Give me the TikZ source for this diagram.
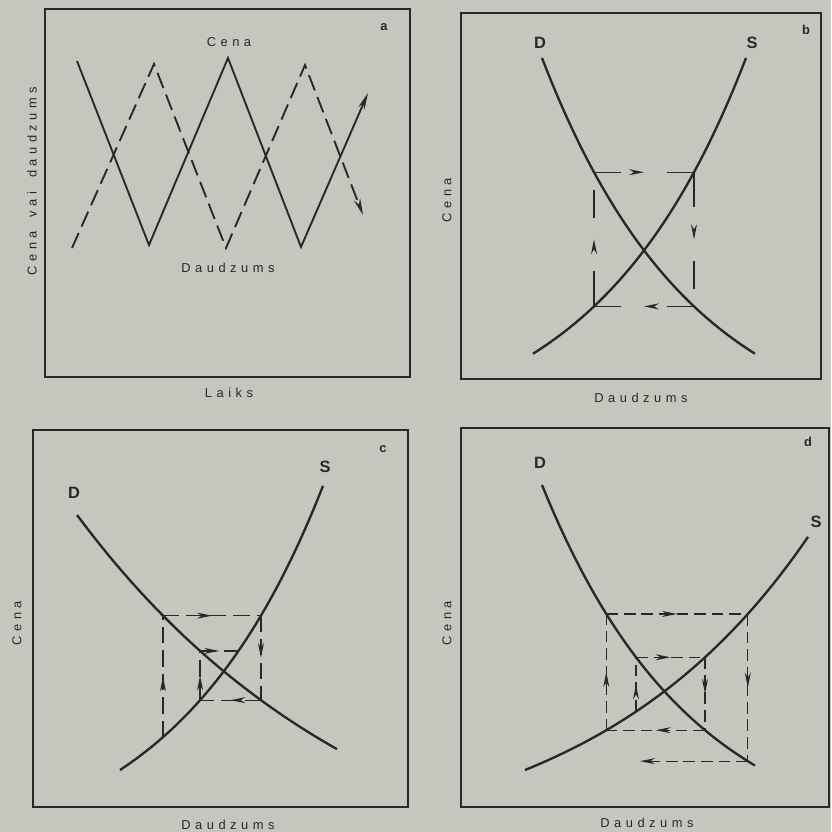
\documentclass[tikz,border=0pt]{standalone}
\usepackage{fontspec}
\usepackage{tikz}
\usetikzlibrary{arrows.meta,calc,decorations.markings}
\setmainfont{Liberation Sans}
\newfontfamily\spacedfont[LetterSpace=35,WordSpace=1.7]{Liberation Sans}
\definecolor{PageGray}{RGB}{197,199,190}
\definecolor{InkGray}{RGB}{40,40,38}
\tikzset{
	frame/.style={InkGray,line width=1pt},
	curve/.style={InkGray,line width=2pt},
	priceline/.style={InkGray,line width=1.6pt},
	qtyline/.style={InkGray,line width=1.6pt,dash pattern=on 14pt off 6pt},
	cobweb/.style={InkGray,line width=1.1pt,dash pattern=on 10pt off 5pt},
	longdashV/.style={dash pattern=on 1.05cm off 1.6cm on 0.85cm off 0.5cm},
	longdashH/.style={dash pattern=on 0.8cm off 1.4cm},
	middash/.style={dash pattern=on 14pt off 6pt},
	midarrow/.style={postaction={decorate},decoration={markings,mark=at position 0.5 with {\arrow{Stealth[length=4.5mm,width=1.8mm]}}}},
	axislabel/.style={InkGray,font=\spacedfont\fontsize{11}{13}\selectfont},
	curvelabel/.style={InkGray,font=\bfseries\fontsize{14}{16}\selectfont},
	panellabel/.style={InkGray,font=\bfseries\fontsize{11}{13}\selectfont}
}

\begin{document}
\begin{tikzpicture}[x=0.03cm,y=-0.03cm,
		declare function={
			Db(\x)=58+390*(1-exp(-(\x-542)/150));
			Sb(\x)=Db(1288-\x);
			Dc(\x)=515+404*(1-exp(-(\x-77)/300));
			Sc(\x)=770-99*(exp((\x-120)/150)-1);
			Scinv(\y)=120+150*ln(1+(770-\y)/99);
			Dd(\x)=485+370*(1-exp(-(\x-542)/150));
			Sd(\x)=770-89*(exp((\x-525)/220)-1);
			Sdinv(\y)=525+220*ln(1+(770-\y)/89);
		}]
			\useasboundingbox (0,0) rectangle (831,832);
			\fill[PageGray] (0,0) rectangle (831,832);
			\draw[frame] (45,9) rectangle (410,377);
			\draw[frame] (461,13) rectangle (821,379);
			\draw[frame] (33,430) rectangle (408,807);
			\draw[frame] (461,428) rectangle (829,807);
			\node[panellabel] (labA) at (384,27) {a};
			\node[panellabel] (labB) at (806,30) {b};
			\node[panellabel] (labC) at (383,449) {c};
			\node[panellabel] (labD) at (808,442) {d};
			\node[axislabel] (aPrice) at (229,42) {Cena};
			\node[axislabel] (aQty) at (228,268) {Daudzums};
			\node[axislabel] (aTime) at (229,393) {Laiks};
			\node[axislabel,rotate=90] (aVert) at (32,181) {Cena vai daudzums};
			\node[axislabel] (bQty) at (641,398) {Daudzums};
			\node[axislabel,rotate=90] (bPrice) at (447,200) {Cena};
			\node[axislabel] (cQty) at (228,825) {Daudzums};
			\node[axislabel,rotate=90] (cPrice) at (17,623) {Cena};
			\node[axislabel] (dQty) at (647,823) {Daudzums};
			\node[axislabel,rotate=90] (dPrice) at (447,623) {Cena};
			\draw[priceline,-{Stealth[length=5mm,width=2mm]}] (77,61)--(149,245)--(228,58)--(301,247)--(368,93);
			\draw[qtyline,-{Stealth[length=5mm,width=2mm]}] (72,248)--(154,64)--(226,248)--(305,65)--(363,215);
			\node[curvelabel] (bD) at (540,43) {D};
			\node[curvelabel] (bS) at (752,43) {S};
			\draw[curve] plot[domain=542:755,samples=50] (\x,{Db(\x)});
			\draw[curve] plot[domain=533:746,samples=50] (\x,{Sb(\x)});
			\pgfmathsetmacro{\bYhi}{Db(594)}
			\pgfmathsetmacro{\bYlo}{Db(694)}
			\coordinate (b1) at (594,\bYhi);
			\coordinate (b2) at (694,\bYhi);
			\coordinate (b3) at (694,\bYlo);
			\coordinate (b4) at (594,\bYlo);
			\draw[cobweb,longdashV,midarrow] (b4)--(b1);
			\draw[cobweb,longdashH,midarrow] (b1)--(b2);
			\draw[cobweb,longdashV,midarrow] (b2)--(b3);
			\draw[cobweb,longdashH,midarrow] (b3)--(b4);
			\node[curvelabel] (cD) at (74,493) {D};
			\node[curvelabel] (cS) at (325,467) {S};
			\draw[curve] plot[domain=77:337,samples=50] (\x,{Dc(\x)});
			\draw[curve] plot[domain=120:323,samples=50] (\x,{Sc(\x)});
			\pgfmathsetmacro{\cYa}{Sc(163)}
			\pgfmathsetmacro{\cYb}{Dc(163)}
			\pgfmathsetmacro{\cXb}{Scinv(\cYb)}
			\pgfmathsetmacro{\cYc}{Dc(\cXb)}
			\pgfmathsetmacro{\cXc}{Scinv(\cYc)}
			\pgfmathsetmacro{\cYd}{Dc(\cXc)}
			\pgfmathsetmacro{\cXd}{Scinv(\cYd)}
			\coordinate (c0) at (163,\cYa);
			\coordinate (c1) at (163,\cYb);
			\coordinate (c2) at (\cXb,\cYb);
			\coordinate (c3) at (\cXb,\cYc);
			\coordinate (c4) at (\cXc,\cYc);
			\coordinate (c5) at (\cXc,\cYd);
			\coordinate (c6) at (\cXd,\cYd);
			\draw[cobweb,middash,midarrow] (c0)--(c1);
			\draw[cobweb,middash,midarrow] (c1)--(c2);
			\draw[cobweb,middash,midarrow] (c2)--(c3);
			\draw[cobweb,middash,midarrow] (c3)--(c4);
			\draw[cobweb,middash,midarrow] (c4)--(c5);
			\draw[cobweb,middash,midarrow] (c5)--(c6);
			\node[curvelabel] (dD) at (540,463) {D};
			\node[curvelabel] (dS) at (816,522) {S};
			\draw[curve] plot[domain=542:755,samples=50] (\x,{Dd(\x)});
			\draw[curve] plot[domain=525:808,samples=50] (\x,{Sd(\x)});
			\pgfmathsetmacro{\dYa}{Sd(636)}
			\pgfmathsetmacro{\dYb}{Dd(636)}
			\pgfmathsetmacro{\dXb}{Sdinv(\dYb)}
			\pgfmathsetmacro{\dYc}{Dd(\dXb)}
			\pgfmathsetmacro{\dXc}{Sdinv(\dYc)}
			\pgfmathsetmacro{\dYd}{Dd(\dXc)}
			\pgfmathsetmacro{\dXd}{Sdinv(\dYd)}
			\pgfmathsetmacro{\dYe}{Dd(\dXd)}
			\coordinate (d0) at (636,\dYa);
			\coordinate (d1) at (636,\dYb);
			\coordinate (d2) at (\dXb,\dYb);
			\coordinate (d3) at (\dXb,\dYc);
			\coordinate (d4) at (\dXc,\dYc);
			\coordinate (d5) at (\dXc,\dYd);
			\coordinate (d6) at (\dXd,\dYd);
			\coordinate (d7) at (\dXd,\dYe);
			\coordinate (d8) at (640,\dYe);
			\draw[cobweb,midarrow] (d0)--(d1);
			\draw[cobweb,midarrow] (d1)--(d2);
			\draw[cobweb,midarrow] (d2)--(d3);
			\draw[cobweb,midarrow] (d3)--(d4);
			\draw[cobweb,midarrow] (d4)--(d5);
			\draw[cobweb,midarrow] (d5)--(d6);
			\draw[cobweb,midarrow] (d6)--(d7);
			\draw[cobweb,-{Stealth[length=4.5mm,width=1.8mm]}] (d7)--(d8);
		\end{tikzpicture}
\end{document}
